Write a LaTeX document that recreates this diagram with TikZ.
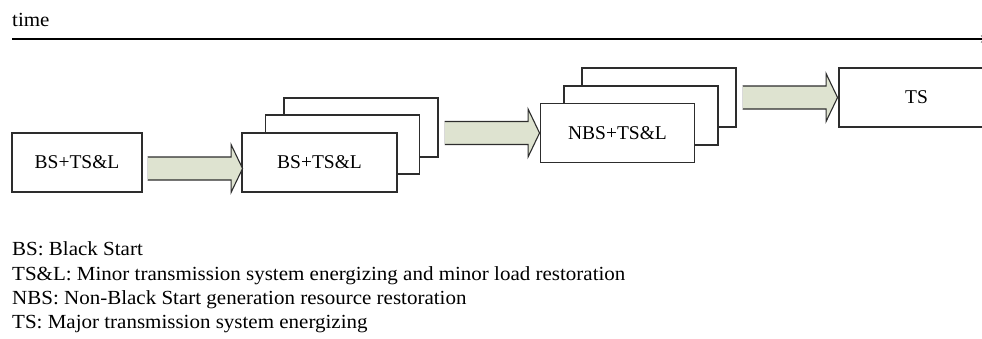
\documentclass[tikz,border=0pt]{standalone}
\usepackage{fontspec}
\setmainfont{Liberation Serif}
\newfontfamily\legfont[FakeStretch=1.05]{Liberation Serif}
\usetikzlibrary{arrows.meta}
\definecolor{arrowfill}{RGB}{222,227,208}
\definecolor{edgecol}{RGB}{45,45,45}
\tikzset{
  box/.style={draw=edgecol, line width=1.1pt, fill=white, inner sep=0pt,
    minimum width=#1, minimum height=59pt, font=\fontsize{19.5}{24}\selectfont},
  box/.default=154pt,
  legend/.style={anchor=base west, inner sep=0pt, font=\legfont\fontsize{20}{24}\selectfont},
  blockarr/.pic={
    \fill[arrowfill] (0,-11.5) -- (83.5,-11.5) -- (83.5,-24) -- (95,0) -- (83.5,24) -- (83.5,11.5) -- (0,11.5) -- cycle;
    \draw[edgecol, line width=1.1pt, line join=miter] (0,-11.5) -- (83.5,-11.5) -- (83.5,-24) -- (95,0) -- (83.5,24) -- (83.5,11.5) -- (0,11.5);
    \draw[gray!30, line width=1.5pt] (0,-11.5) -- (0,11.5);
  }
}
\begin{document}
\begin{tikzpicture}[x=1pt,y=-1pt]
\useasboundingbox (0,0) rectangle (982,338);
\clip (0,0) rectangle (982,338);
% time axis
\node[legend] (time) at (12,26) {time};
\coordinate (tstart) at (12,39);
\coordinate (tend) at (989,39);
\draw[line width=1.5pt, -{Stealth[length=8pt,width=7pt]}] (tstart) -- (tend);
% first box
\node[box=130pt] (b1) at (77,162.5) {BS+TS\&L};
% second stack
\node[box] (b2c) at (361,127.5) {};
\node[box] (b2b) at (342.5,144.5) {};
\node[box=155pt] (b2) at (319.5,162.5) {BS+TS\&L};
% third stack
\node[box] (b3c) at (659,97.5) {};
\node[box] (b3b) at (641,115.5) {};
\node[box] (b3) at (617.5,133) {NBS+TS\&L};
% TS box
\node[box=155pt] (b4) at (916.5,97.5) {TS};
% block arrows
\pic at ([xshift=5pt,yshift=-6pt]b1.east) {blockarr};
\pic at ([xshift=6pt]b2c.east |- b3.west) {blockarr};
\pic at ([xshift=6pt]b3c.east) {blockarr};
% legend
\node[legend] (l1) at (12,255) {BS: Black Start};
\node[legend] (l2) at (12,280) {TS\&L: Minor transmission system energizing and minor load restoration};
\node[legend] (l3) at (12,304) {NBS: Non-Black Start generation resource restoration};
\node[legend] (l4) at (12,328) {TS: Major transmission system energizing};
\end{tikzpicture}
\end{document}
